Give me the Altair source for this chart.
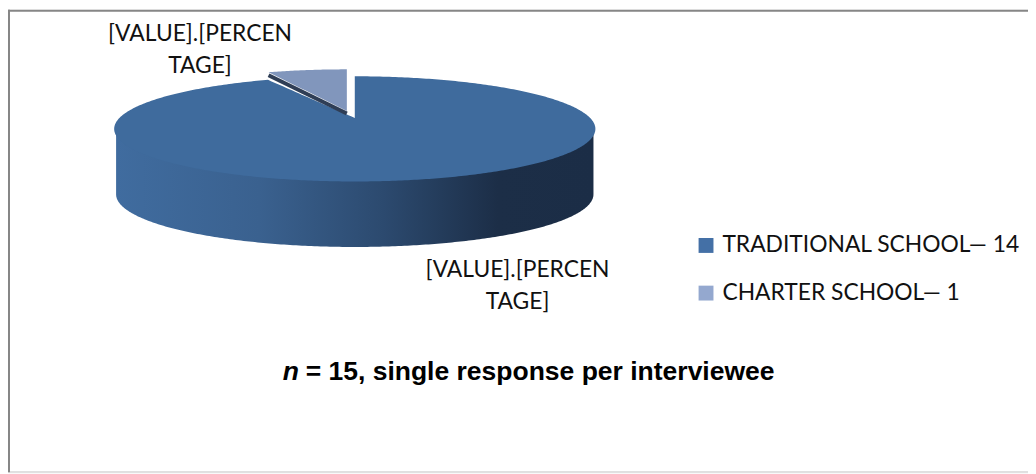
import altair as alt
import numpy as np
import pandas as pd

categories = ["TRADITIONAL SCHOOL— 14", "CHARTER SCHOOL— 1"]
counts = [14, 1]
legend_colors = ["#4470a6", "#94a8cf"]

TOP_COLOR = "#3f6b9d"
SLICE_COLOR = "#8196bc"
EDGE_COLOR = "#2f3e56"
SIDE_STOPS = [(0.0, "#406c9f"), (0.3, "#3a618f"), (0.56, "#2c4a6f"), (0.8, "#1c2e47"), (1.0, "#1b2d46")]

CX, CY, RX, RY = 357.5, 128.0, 242.5, 53.0
W, H = 1028, 466
X_DOM = [(8 - CX) / RX, (8 + W - CX) / RX]
Y_DOM = [(CY - 8 - H) / RY, (CY - 8) / RY]
xs = alt.Scale(domain=X_DOM, nice=False, zero=False)
ys = alt.Scale(domain=Y_DOM, nice=False, zero=False)

theta = 2 * np.pi * counts[1] / sum(counts)
edge_x = -np.sin(theta) * 0.887
vertex_y = 11 / RY

t = np.sin(np.linspace(-np.pi / 2, np.pi / 2, 241))
t[0], t[-1] = -1.0, 1.0
root = np.sqrt(np.maximum(1 - t ** 2, 0))

depth = 66 / RY
side = pd.DataFrame({"px": t * 0.992, "ya": -root - depth, "yb": np.zeros_like(t)})

ey = np.sqrt(1 - edge_x ** 2)
rows = []
for v, r in zip(t, root):
    if v < edge_x or v > 0:
        rows.append((v, r, -r))
    elif v < 0:
        rows.append((v, ey + (vertex_y - ey) * (v - edge_x) / (0 - edge_x), -r))
rows += [(edge_x, ey, -ey), (0.0, vertex_y, -1.0), (1e-6, 1.0, -1.0)]
rows.sort(key=lambda r: (r[0], r[1]))
top = pd.DataFrame(rows, columns=["px", "ya", "yb"])

ox, oy = -8 / RX, 7 / RY
cw = np.sin(theta) * 0.80
ct = np.linspace(-cw, 0, 40)
tip_y = np.sqrt(1 - cw ** 2) + oy
apex_y = 18 / RY
small = pd.DataFrame({
    "px": ct + ox,
    "ya": np.sqrt(1 - ct ** 2) + oy,
    "yb": apex_y + (ct / -cw) * (tip_y - apex_y),
})
edge = pd.DataFrame({
    "px": [-cw + ox, ox],
    "ya": [tip_y - 3 / RY, apex_y - 2.5 / RY],
    "o": [0, 1],
})

X = alt.X("px:Q", scale=xs, axis=None)
Y = alt.Y("ya:Q", scale=ys, axis=None, stack=None)

side_ch = alt.Chart(side).mark_area(
    color=alt.Gradient(gradient="linear", x1=0, x2=1, y1=0, y2=0,
                       stops=[alt.GradientStop(offset=o, color=c) for o, c in SIDE_STOPS])
).encode(x=X, y=Y, y2=alt.Y2("yb"))
top_ch = alt.Chart(top).mark_area(color=TOP_COLOR).encode(x=X, y=Y, y2=alt.Y2("yb"))
small_ch = alt.Chart(small).mark_area(color=SLICE_COLOR).encode(x=X, y=Y, y2=alt.Y2("yb"))
edge_ch = alt.Chart(edge).mark_line(color=EDGE_COLOR, strokeWidth=4, strokeCap="butt").encode(x=X, y=Y, order="o:Q")

legend_ch = alt.Chart(pd.DataFrame({"cat": categories})).mark_square(opacity=0).encode(
    x=alt.value(0), y=alt.value(0),
    color=alt.Color("cat:N", scale=alt.Scale(domain=categories, range=legend_colors), title=None,
                    legend=alt.Legend(orient="none", legendX=692, legendY=226, symbolType="square",
                                      symbolSize=225, symbolOpacity=1, symbolStrokeWidth=0,
                                      labelFont="Lato", labelFontSize=23, labelColor="#111111",
                                      labelLimit=400, labelOffset=5, rowPadding=24)),
)

label_rows = pd.DataFrame({
    "text": ["[VALUE].[PERCEN", "TAGE]", "[VALUE].[PERCEN", "TAGE]"],
    "px": [193.5, 193.5, 513.5, 513.5],
    "py": [24, 56.5, 262, 295],
})
labels = alt.Chart(label_rows).mark_text(font="Lato", fontSize=23, color="#111111", align="center", baseline="middle").encode(
    x=alt.X("px:Q", scale=None), y=alt.Y("py:Q", scale=None), text="text:N")

note_n = alt.Chart(pd.DataFrame({"t": ["n"]})).mark_text(
    font="Liberation Sans", fontSize=26.7, fontWeight="bold", fontStyle="italic", align="left", baseline="middle", color="#000000"
).encode(x=alt.value(277), y=alt.value(365), text="t:N")
note_rest = alt.Chart(pd.DataFrame({"t": ["= 15, single response per interviewee"]})).mark_text(
    font="Liberation Sans", fontSize=26.7, fontWeight="bold", align="left", baseline="middle", color="#000000"
).encode(x=alt.value(300), y=alt.value(365), text="t:N")

frame_top = alt.Chart(pd.DataFrame({"a": [0]})).mark_rule(color="#868686", strokeWidth=2).encode(
    x=alt.value(0), x2=alt.value(W), y=alt.value(1))
frame_left = alt.Chart(pd.DataFrame({"a": [0]})).mark_rule(color="#868686", strokeWidth=2).encode(
    x=alt.value(1), y=alt.value(0), y2=alt.value(H))
frame_bottom = alt.Chart(pd.DataFrame({"a": [0]})).mark_rule(color="#d9d9d9", strokeWidth=1).encode(
    x=alt.value(2), x2=alt.value(W), y=alt.value(H - 0.5))

chart = alt.layer(
    frame_top, frame_left, frame_bottom, side_ch, small_ch, top_ch, edge_ch, labels, note_n, note_rest, legend_ch
).resolve_scale(color="independent").properties(
    width=W, height=H, padding=0, autosize=alt.AutoSizeParams(type="none")
).configure_view(stroke=None).configure(background="#ffffff")

chart.save("out.html", embed_options={"renderer": "svg", "actions": False})
